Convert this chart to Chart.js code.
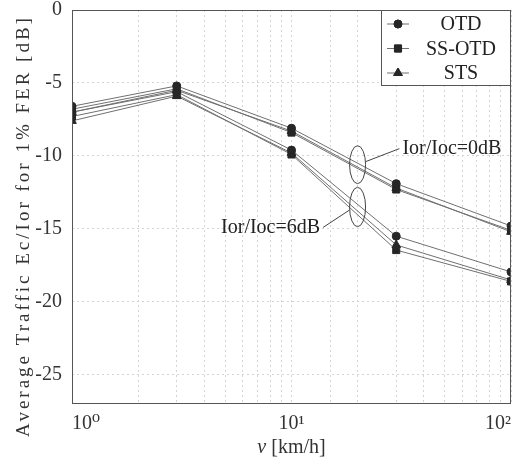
<!DOCTYPE html>
<html>
<head>
<meta charset="utf-8">
<script src="https://cdn.jsdelivr.net/npm/chart.js@4/dist/chart.umd.min.js"></script>
<style>
  html, body { margin: 0; padding: 0; background: #fff; }
  #wrap { width: 520px; height: 465px; }
</style>
</head>
<body>
<div id="wrap"><canvas id="fadingChart"></canvas></div>
<script>
// speeds in km/h
const speeds = [1, 3, 10, 30, 100];

// Ior/Ioc = 0dB
const otd0   = [-6.6, -5.2, -8.1, -11.9, -14.8];
const ssotd0 = [-6.8, -5.4, -8.4, -12.3, -15.1];
const sts0   = [-7.0, -5.5, -8.3, -12.2, -15.2];

// Ior/Ioc = 6dB
const otd6   = [-7.0, -5.6, -9.6, -15.5, -17.95];
const ssotd6 = [-7.3, -5.8, -9.9, -16.45, -18.6];
const sts6   = [-7.6, -5.9, -9.8, -16.1, -18.5];

const schemeNames = ['OTD', 'SS-OTD', 'STS'];
const schemeMarkers = ['circle', 'rect', 'triangle'];

const yTicks = [-25, -20, -15, -10, -5, 0];
const xMajor = [1, 10, 100];
const xMajorLabels = ['10⁰', '10¹', '10²'];

const serif = '"Liberation Serif", "DejaVu Serif", serif';
const lineCol = '#707070';
const markCol = '#262626';

function makeSet(name, marker, vals) {
  return {
    label: name,
    data: speeds.map((s, i) => ({ x: s, y: vals[i] })),
    showLine: true,
    borderColor: lineCol,
    borderWidth: 1,
    pointStyle: marker,
    pointRadius: marker == 'circle' ? 4 : 5,
    pointBackgroundColor: markCol,
    pointBorderColor: markCol,
    pointBorderWidth: 1
  };
}

let datasets = [
  makeSet('OTD', 'circle', otd0),
  makeSet('SS-OTD', 'rect', ssotd0),
  makeSet('STS', 'triangle', sts0),
  makeSet('OTD', 'circle', otd6),
  makeSet('SS-OTD', 'rect', ssotd6),
  makeSet('STS', 'triangle', sts6)
];

// frame, titles, legend box and the two ellipse notes
const extras = {
  id: 'extras',
  afterDatasetsDraw(chart) {
    const ctx = chart.ctx;
    const a = chart.chartArea;
    const xs = chart.scales.x, ys = chart.scales.y;
    ctx.save();

    // frame
    ctx.strokeStyle = '#555';
    ctx.lineWidth = 1;
    ctx.strokeRect(a.left + 0.5, a.top + 0.5, a.right - a.left - 1, a.bottom - a.top - 1);

    // ellipse notes
    function note(xv, yv, ry, label, tx, ty, lx1, ly1, align) {
      const cx = xs.getPixelForValue(xv);
      const cy = ys.getPixelForValue(yv);
      const r = Math.abs(ys.getPixelForValue(yv + ry) - cy);
      ctx.strokeStyle = '#444';
      ctx.lineWidth = 1;
      ctx.beginPath();
      ctx.ellipse(cx, cy, 8, r, 0, 0, Math.PI * 2);
      ctx.stroke();
      const px = xs.getPixelForValue(tx), py = ys.getPixelForValue(ty);
      ctx.beginPath();
      ctx.moveTo(cx + lx1, cy + ly1);
      ctx.lineTo(px + (align == 'left' ? -3 : 3), py);
      ctx.stroke();
      ctx.fillStyle = '#222';
      ctx.font = '20px ' + serif;
      ctx.textAlign = align;
      ctx.textBaseline = 'middle';
      ctx.fillText(label, px, py);
    }
    note(20, -10.6, 1.3, 'Ior/Ioc=0dB', 32, -9.5, 8, -3, 'left');
    note(20, -13.5, 1.35, 'Ior/Ioc=6dB', 13.5, -14.9, -8, 3, 'right');

    // legend box
    const bx = 381, by = a.top, bw = a.right - bx, bh = 76;
    ctx.fillStyle = '#fff';
    ctx.fillRect(bx, by, bw, bh);
    ctx.strokeStyle = '#555';
    ctx.strokeRect(bx + 0.5, by + 0.5, bw - 1, bh - 1);
    schemeNames.forEach((nm, i) => {
      const y = by + 14 + i * 24.5;
      ctx.strokeStyle = lineCol;
      ctx.beginPath();
      ctx.moveTo(387, y);
      ctx.lineTo(409, y);
      ctx.stroke();
      Chart.helpers.drawPoint(ctx, {
        pointStyle: schemeMarkers[i],
        radius: schemeMarkers[i] == 'circle' ? 4 : 5,
        borderWidth: 1
      }, 398, y);
      ctx.fillStyle = markCol;
      ctx.strokeStyle = markCol;
      ctx.fill();
      ctx.stroke();
      ctx.fillStyle = '#222';
      ctx.font = '20px ' + serif;
      ctx.textAlign = 'center';
      ctx.textBaseline = 'middle';
      ctx.fillText(nm, 461, y + 1);
    });

    // axis titles
    ctx.fillStyle = '#333';
    ctx.textBaseline = 'middle';
    ctx.save();
    ctx.font = '19px ' + serif;
    ctx.translate(24, 226);
    ctx.rotate(-Math.PI / 2);
    ctx.textAlign = 'center';
    ctx.letterSpacing = '3px';
    ctx.fillText('Average Traffic Ec/Ior for 1% FER [dB]', 0, 0);
    ctx.restore();

    const midX = (a.left + a.right) / 2;
    ctx.font = 'italic 20px ' + serif;
    const vw = ctx.measureText('v').width;
    ctx.font = '20px ' + serif;
    const rest = ' [km/h]';
    const rw = ctx.measureText(rest).width;
    const sx = midX - (vw + rw) / 2;
    ctx.textAlign = 'left';
    ctx.font = 'italic 20px ' + serif;
    ctx.fillText('v', sx, 448);
    ctx.font = '20px ' + serif;
    ctx.fillText(rest, sx + vw, 448);

    ctx.restore();
  }
};

new Chart(document.getElementById('fadingChart'), {
  type: 'scatter',
  data: { datasets: datasets },
  options: {
    responsive: true,
    maintainAspectRatio: false,
    animation: false,
    layout: { padding: 0 },
    plugins: {
      legend: { display: false },
      tooltip: { enabled: false }
    },
    scales: {
      x: {
        type: 'logarithmic',
        min: 1,
        max: 100,
        afterFit: function (scale) {
          scale.height = 61;
          scale.paddingLeft = 0;
          scale.paddingRight = 9;
        },
        grid: { color: '#d4d4d4', drawTicks: false },
        border: { display: false, dash: [2, 3] },
        ticks: {
          autoSkip: false,
          maxRotation: 0,
          align: 'inner',
          padding: 8,
          color: '#333',
          font: { family: serif, size: 20 },
          callback: function (v) {
            const i = xMajor.indexOf(Number(v));
            return i >= 0 ? xMajorLabels[i] : '';
          }
        }
      },
      y: {
        min: -27,
        max: 0,
        afterFit: function (scale) {
          scale.width = 72;
          scale.paddingTop = 10;
          scale.paddingBottom = 0;
        },
        afterBuildTicks: function (scale) {
          scale.ticks = yTicks.map(v => ({ value: v }));
        },
        grid: { color: '#d4d4d4', drawTicks: false },
        border: { display: false, dash: [2, 3] },
        ticks: {
          padding: 10,
          color: '#333',
          font: { family: serif, size: 20 }
        }
      }
    }
  },
  plugins: [extras]
});
</script>
</body>
</html>
